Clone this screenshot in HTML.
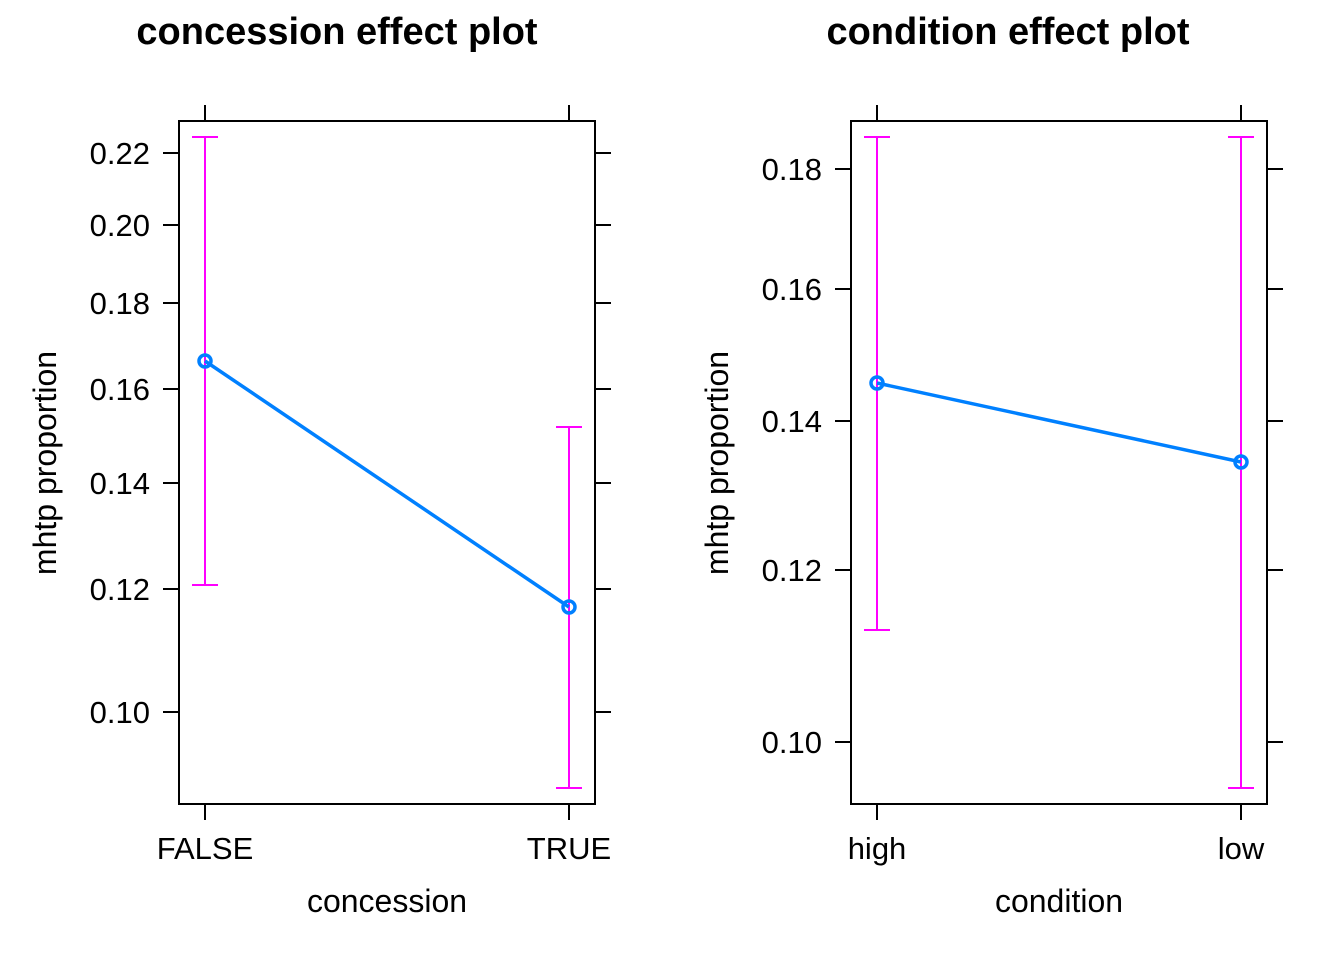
<!DOCTYPE html>
<html><head><style>body{margin:0;background:#fff}svg{display:block}text{font-family:"Liberation Sans",Arial,sans-serif;fill:#000}</style></head>
<body>
<svg width="1344" height="960" viewBox="0 0 1344 960" xmlns="http://www.w3.org/2000/svg">
<g font-size="38" font-weight="bold" text-anchor="middle">
<text x="337" y="44">concession effect plot</text>
<text x="1008" y="44">condition effect plot</text>
</g>
<g stroke="#000" stroke-width="2" fill="none">
<rect x="179" y="121" width="416" height="683"/>
<rect x="851" y="121" width="416" height="683"/>
<path d="M205 121V105M569 121V105M205 804V820M569 804V820
M163 153H179M163 225H179M163 303H179M163 389H179M163 483H179M163 589H179M163 712H179
M595 153H611M595 225H611M595 303H611M595 389H611M595 483H611M595 589H611M595 712H611
M877 121V105M1241 121V105M877 804V820M1241 804V820
M835 169H851M835 289H851M835 421H851M835 570H851M835 742H851
M1267 169H1283M1267 289H1283M1267 421H1283M1267 570H1283M1267 742H1283"/>
</g>
<g font-size="31" text-anchor="end">
<text x="150" y="164">0.22</text><text x="150" y="236">0.20</text><text x="150" y="314">0.18</text>
<text x="150" y="400">0.16</text><text x="150" y="494">0.14</text><text x="150" y="600">0.12</text><text x="150" y="723">0.10</text>
<text x="822" y="180">0.18</text><text x="822" y="300">0.16</text><text x="822" y="432">0.14</text>
<text x="822" y="581">0.12</text><text x="822" y="753">0.10</text>
</g>
<g font-size="31" text-anchor="middle">
<text x="205" y="859">FALSE</text><text x="569" y="859">TRUE</text>
<text x="877" y="859">high</text><text x="1241" y="859">low</text>
</g>
<g font-size="32" text-anchor="middle">
<text x="387" y="912">concession</text><text x="1059" y="912">condition</text>
<text transform="translate(56,463) rotate(-90)">mhtp proportion</text>
<text transform="translate(728,463) rotate(-90)">mhtp proportion</text>
</g>
<g stroke="#ff00ff" stroke-width="2" fill="none">
<path d="M205 137V585M192 137H218M192 585H218"/>
<path d="M569 427V788M556 427H582M556 788H582"/>
<path d="M877 137V630M864 137H890M864 630H890"/>
<path d="M1241 137V788M1228 137H1254M1228 788H1254"/>
</g>
<g stroke="#0080ff" stroke-width="3.5" fill="none">
<path d="M205 361L569 607"/><path d="M877 383L1241 462"/>
<circle cx="205" cy="361" r="6"/><circle cx="569" cy="607" r="6"/>
<circle cx="877" cy="383" r="6"/><circle cx="1241" cy="462" r="6"/>
</g>
</svg>
</body></html>
